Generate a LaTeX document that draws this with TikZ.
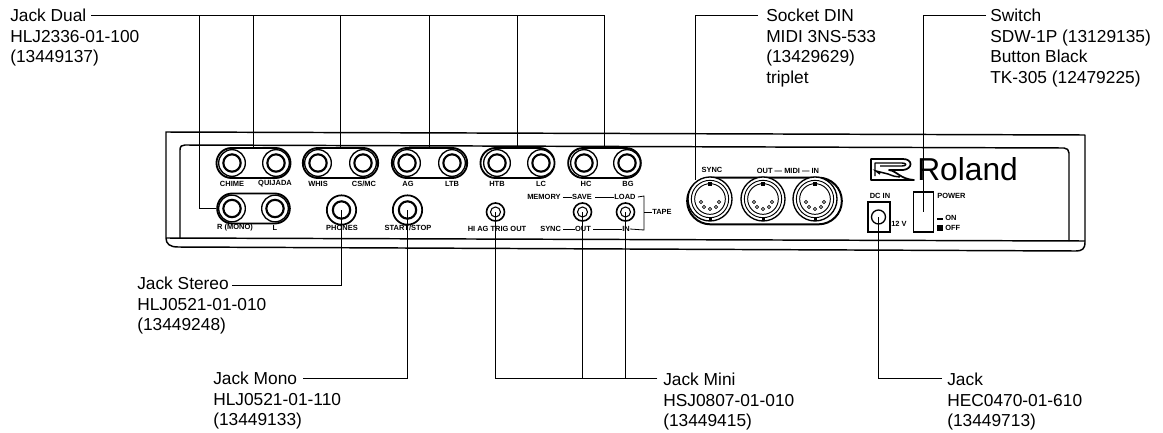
\documentclass[tikz,border=0pt]{standalone}
\usepackage{fontspec}
\setmainfont{Liberation Sans}
\usetikzlibrary{shapes.misc}
\tikzset{
  lead/.style={line width=1.25pt,line join=miter},
  partlabel/.style={anchor=north west,inner sep=0pt,align=left,font=\fontsize{13}{15.3}\selectfont},
  tiny/.style={inner sep=0pt,font=\fontsize{5.6}{6}\selectfont\bfseries},
  capsule/.style={draw,rounded rectangle,line width=1.4pt,minimum height=22.5pt,inner sep=0pt,text width=0pt},
  ringL/.style={draw,circle,fill=white,line width=1pt,minimum size=20pt,inner sep=0pt},
  ringI/.style={draw,circle,line width=1.6pt,minimum size=13pt,inner sep=0pt},
  ringS/.style={draw,circle,fill=white,line width=1.2pt,minimum size=13.5pt,inner sep=0pt},
  ringT/.style={draw,circle,line width=.8pt,minimum size=7.5pt,inner sep=0pt},
  din/.style={draw,circle,fill=white,line width=1pt,minimum size=33pt,inner sep=0pt},
  pin/.style={draw,circle,line width=.6pt,minimum size=2.4pt,inner sep=0pt},
  panel/.style={line width=1.1pt,line join=round},
}
\newcommand{\capText}{\rule{0pt}{9pt}}
\newcommand{\bigjack}[3]{\node[ringL] (#1) at (#2,#3) {}; \node[ringI] at (#1.center) {};}
\newcommand{\minijack}[3]{\node[ringS] (#1) at (#2,#3) {}; \node[ringT] at (#1.center) {};}
\newcommand{\dinsock}[3]{%
  \node[din] (#1) at (#2,#3) {};
  \node[draw,circle,line width=.7pt,minimum size=28pt,inner sep=0pt] at (#1.center) {};
  \node[draw,circle,line width=.7pt,minimum size=23pt,inner sep=0pt] at (#1.center) {};
  \node[pin] at (#2-9,#3+3) {}; \node[pin] at (#2-6,#3+8) {}; \node[pin] at (#2,#3+10) {};
  \node[pin] at (#2+6,#3+8) {}; \node[pin] at (#2+9,#3+3) {};
  \fill (#2-2,#3-17) rectangle (#2+2,#3-13);
  \fill (#2-1.5,#3+19) rectangle (#2+1.5,#3+22);
}
\begin{document}
\begin{tikzpicture}[x=0.75pt,y=-0.75pt]
\useasboundingbox (0,0) rectangle (1163,432);
% panel
\draw[panel] (166,132) -- (1085,135) -- (1085,242) .. controls (1085,249) and (1082,251) .. (1076,251)
  -- (178,247) .. controls (170,247) and (166,244) .. (166,238) -- cycle;
\draw[panel] (166,238) -- (1085,241);
\draw[panel] (180,238) -- (180,150) .. controls (180,146) and (182,145) .. (185,145)
  -- (1064,148) .. controls (1067,148) and (1069,150) .. (1069,153) -- (1069,241);
% capsules and jacks
\node[capsule,minimum width=22.5pt+33pt] (capA) at (253.5,163) {};
\node[capsule,minimum width=22.5pt+34pt] (capB) at (340.5,163) {};
\node[capsule,minimum width=22.5pt+34pt] (capC) at (429.5,163) {};
\node[capsule,minimum width=22.5pt+33pt] (capD) at (517.5,163) {};
\node[capsule,minimum width=22.5pt+32pt] (capE) at (604.5,163) {};
\node[capsule,minimum width=22.5pt+32pt] (capR) at (253.5,208.5) {};
\bigjack{jChime}{232}{163}\bigjack{jQuij}{276}{163}
\bigjack{jWhis}{318}{163}\bigjack{jCs}{363}{163}
\bigjack{jAg}{407}{163}\bigjack{jLtb}{452}{163}
\bigjack{jHtb}{497}{163}\bigjack{jLc}{541}{163}
\bigjack{jHc}{584}{163}\bigjack{jBg}{627}{163}
\bigjack{jRm}{232}{208.5}\bigjack{jL}{275}{208.5}
% single jacks
\node[draw,circle,line width=1.3pt,minimum size=22pt,inner sep=0pt] (jPhonesO) at (341.5,210) {};
\node[ringI] (jPhones) at (341.5,210) {};
\node[draw,circle,line width=1.3pt,minimum size=22pt,inner sep=0pt] (jStartO) at (407.5,210) {};
\node[ringI] (jStart) at (407.5,210) {};
\minijack{jTrig}{495.5}{212}\minijack{jSave}{582.5}{212}\minijack{jLoad}{625.5}{212}
% small labels
\foreach \t/\x in {CHIME/232,QUIJADA/275,WHIS/318,CS\slash MC/364,AG/408,LTB/452,HTB/497,LC/541,HC/586,BG/628}
  \node[tiny] at (\x,184) {\t};
\node[tiny] (lR) at (235,228) {R (MONO)};
\node[tiny] (lL) at (275,228) {L};
\node[tiny] (lPh) at (342,228) {PHONES};
\node[tiny] (lSt) at (408,228) {START/STOP};
\node[tiny] (lTr) at (497,229) {HI AG TRIG OUT};
\node[tiny,anchor=west] (lMem) at (527,197) {MEMORY};
\node[tiny] (lSav) at (582,197) {SAVE};
\node[tiny] (lLod) at (625,197) {LOAD};
\node[tiny,anchor=west] (lSyn) at (540,229) {SYNC};
\node[tiny] (lOut) at (583,229) {OUT};
\node[tiny] (lIn) at (626,229) {IN};
\node[tiny,anchor=west] (lTap) at (652,212) {TAPE};
\coordinate (brTop) at (644,196);
\coordinate (brBot) at (644,230);
\coordinate (brMid) at (644,212);
\draw[line width=.6pt] (lMem.east) ++(2,0) -- (lSav.west);
\draw[line width=.6pt] (lSav.east) ++(3,0) -- (lLod.west);
\draw[line width=.6pt] (lSyn.east) ++(2,0) -- (lOut.west);
\draw[line width=.6pt] (lOut.east) ++(2,0) -- (lIn.west);
\draw[line width=.6pt] (lLod.east) ++(2,0) -- (brTop) -- (brBot) -- (lIn.east);
\draw[line width=.6pt] (brMid) -- (lTap.west);
% DIN
\node[draw,rounded rectangle,line width=1.5pt,minimum width=116pt,minimum height=35pt,inner sep=0pt,text width=0pt] (capDin) at (764.5,201) {};
\dinsock{dSync}{710}{199}\dinsock{dOut}{763}{199}\dinsock{dIn}{815}{199}
\node[tiny] at (712,170) {SYNC};
\node[tiny] at (788,171) {OUT --- MIDI --- IN};
% logo
\draw[line width=1.3pt,line join=round] (871,180) -- (871,159) -- (903,159) .. controls (913,159) and (913,169) .. (903,170) -- (889,170) .. controls (897,171) and (900,179) .. (914,180) -- cycle;
\draw[line width=1.1pt,line join=round] (875,176) -- (875,163) -- (902,163) .. controls (907,163) and (907,166) .. (902,166) -- (880,166);
\draw[line width=1.1pt] (880,174) -- (876,171) -- (888,174) .. controls (893,176) and (896,177) .. (900,177);
\node[anchor=base west,inner sep=0pt,font=\fontsize{23.8}{24}\selectfont] (roland) at (917,180) {Roland};
% DC in, power
\node[tiny] at (880,196) {DC IN};
\node[draw,line width=.9pt,minimum width=16.5pt,minimum height=22.5pt,inner sep=0pt] (dcBox) at (879,217) {};
\node[draw,circle,line width=1pt,minimum size=10.5pt,inner sep=0pt] (dc) at (878.5,217) {};
\node[tiny] at (899,224) {12 V};
\node[draw,line width=.9pt,minimum width=14.5pt,minimum height=30pt,inner sep=0pt] (sw) at (923.5,212) {};
\coordinate (swEnd) at (923.5,212);
\node[tiny,anchor=west] at (937,196) {POWER};
\node[tiny,anchor=west] at (945,218) {ON};
\node[tiny,anchor=west] at (945,228) {OFF};
\fill (937,218) rectangle (943,220);
\fill (937,225) rectangle (943,231);
% part labels
\node[partlabel] (tDual) at (10,9) {\capText Jack Dual\\HLJ2336-01-100\\(13449137)};
\node[partlabel] (tSock) at (766,9) {\capText Socket DIN\\MIDI 3NS-533\\(13429629)\\triplet};
\node[partlabel] (tSwit) at (990,9) {\capText Switch\\SDW-1P (13129135)\\Button Black\\TK-305 (12479225)};
\node[partlabel] (tStereo) at (137,277) {\capText Jack Stereo\\HLJ0521-01-010\\(13449248)};
\node[partlabel] (tMono) at (213,372) {\capText Jack Mono\\HLJ0521-01-110\\(13449133)};
\node[partlabel] (tMini) at (663,373) {\capText Jack Mini\\HSJ0807-01-010\\(13449415)};
\node[partlabel] (tJack) at (947,373) {\capText Jack\\HEC0470-01-610\\(13449713)};
% leaders
\coordinate (dualS) at (91,15.5);
\coordinate (dualK) at (199.5,15.5);
\coordinate (sockS) at (758,15.5);
\coordinate (swS) at (986,15.5);
\coordinate (sockE) at (695.5,180);
\coordinate (sterS) at (232,285.5);
\coordinate (monoS) at (303,378.5);
\coordinate (miniS) at (657,378.5);
\coordinate (jackS) at (942,378.5);
\draw[lead] (dualS) -| (capA.north);
\draw[lead] (dualS) -| (capB.north);
\draw[lead] (dualS) -| (capC.north);
\draw[lead] (dualS) -| (capD.north);
\draw[lead] (dualS) -| (capE.north);
\draw[lead] (dualK) |- (capR.west);
\draw[lead] (sockS) -| (sockE);
\draw[lead] (swS) -| (swEnd);
\draw[lead] (sterS) -| (jPhones.center);
\draw[lead] (monoS) -| (jStart.center);
\draw[lead] (miniS) -| (jTrig.center);
\draw[lead] (miniS) -| (jSave.center);
\draw[lead] (miniS) -| (jLoad.center);
\draw[lead] (jackS) -| (dc.center);
\end{tikzpicture}
\end{document}
